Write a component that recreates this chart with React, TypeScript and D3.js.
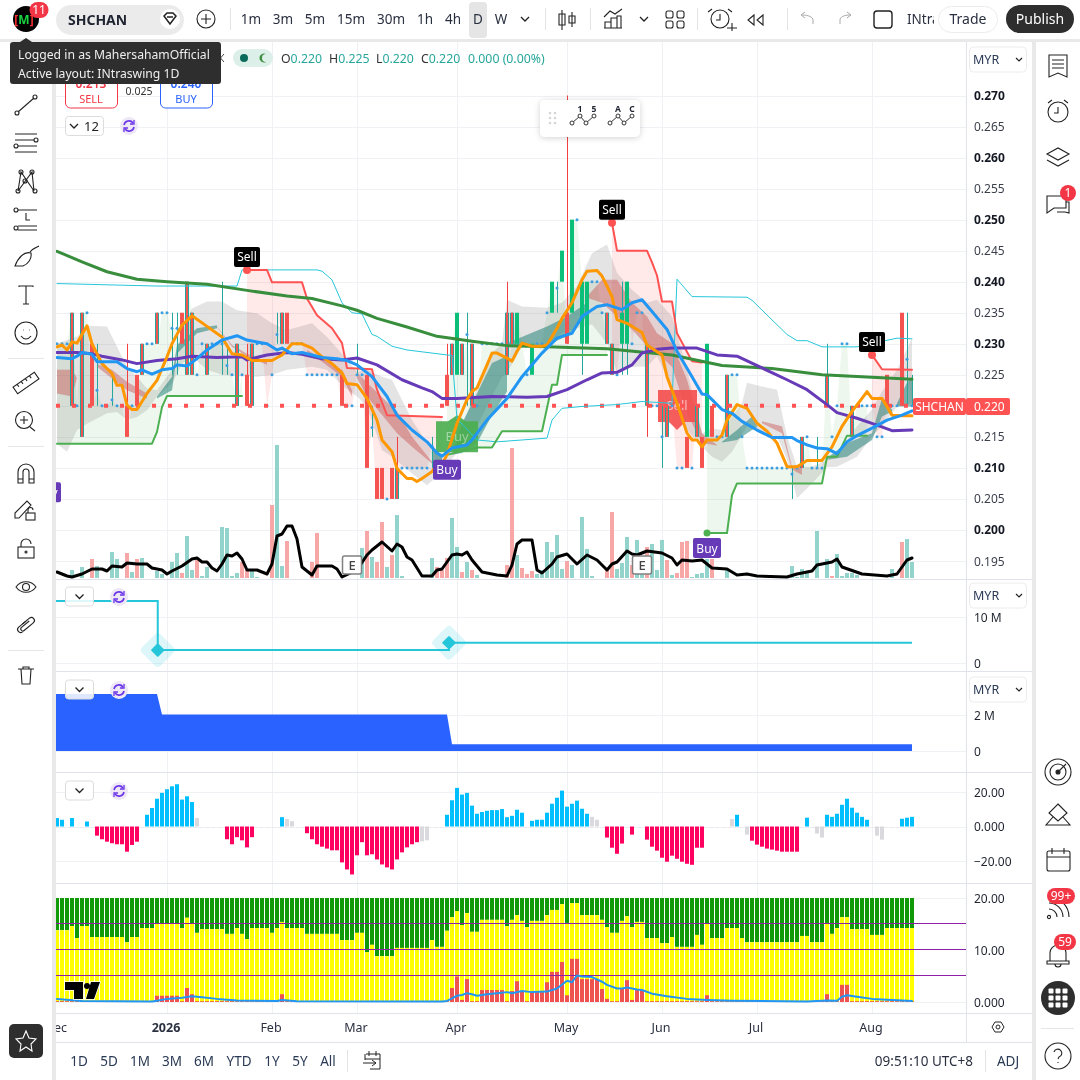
import * as d3 from 'd3';

// ---- price pane, one value per daily bar ----
const barOpen = [
  0.23, 0.23, 0.23, 0.22, 0.22, 0.215, 0.235, 0.23, 0.2225, 0.22,
  0.22, 0.221, 0.22, 0.22, 0.22, 0.22, 0.225, 0.225, 0.23, 0.23,
  0.235, 0.235, 0.235, 0.2325, 0.2325, 0.235, 0.225, 0.225, 0.225, 0.23,
  0.23, 0.23, 0.23, 0.23, 0.2265, 0.225, 0.23, 0.225, 0.225, 0.22,
  0.23, 0.23, 0.22, 0.225, 0.2315, 0.23, 0.235, 0.23, 0.23, 0.23,
  0.225, 0.225, 0.225, 0.225, 0.225, 0.225, 0.225, 0.225, 0.22, 0.22,
  0.225, 0.225, 0.225, 0.2165, 0.21, 0.21, 0.205, 0.21, 0.21, 0.21,
  0.21, 0.21, 0.21, 0.21, 0.21, 0.2135, 0.21, 0.21, 0.225, 0.225,
  0.225, 0.23, 0.2315, 0.23, 0.22, 0.23, 0.23, 0.23, 0.23, 0.23,
  0.235, 0.235, 0.23, 0.23, 0.225, 0.225, 0.23, 0.23, 0.235, 0.235,
  0.239, 0.24, 0.235, 0.235, 0.25, 0.23, 0.23, 0.24, 0.24, 0.235,
  0.235, 0.23, 0.225, 0.23, 0.23, 0.23, 0.235, 0.235, 0.23, 0.22,
  0.22, 0.215, 0.22, 0.22, 0.21, 0.21, 0.215, 0.21, 0.215, 0.215,
  0.215, 0.22, 0.215, 0.215, 0.215, 0.225, 0.225, 0.215, 0.21, 0.21,
  0.21, 0.21, 0.21, 0.21, 0.21, 0.21, 0.21, 0.209, 0.21, 0.215,
  0.215, 0.21, 0.21, 0.21, 0.22, 0.215, 0.22, 0.23, 0.23, 0.22,
  0.22, 0.22, 0.22, 0.22, 0.215, 0.215, 0.225, 0.22, 0.22, 0.235,
  0.2275, 0.22,
];
const barClose = [
  0.23, 0.23, 0.23, 0.235, 0.22, 0.235, 0.235, 0.22, 0.2225, 0.22,
  0.22, 0.221, 0.22, 0.22, 0.215, 0.22, 0.22, 0.23, 0.23, 0.23,
  0.23, 0.235, 0.235, 0.2325, 0.2325, 0.23, 0.24, 0.235, 0.225, 0.23,
  0.225, 0.23, 0.23, 0.23, 0.2265, 0.225, 0.22, 0.225, 0.22, 0.23,
  0.23, 0.23, 0.22, 0.225, 0.2315, 0.235, 0.23, 0.23, 0.23, 0.23,
  0.225, 0.225, 0.225, 0.225, 0.225, 0.225, 0.225, 0.22, 0.22, 0.22,
  0.225, 0.225, 0.21, 0.2165, 0.205, 0.205, 0.205, 0.205, 0.205, 0.21,
  0.21, 0.21, 0.21, 0.21, 0.21, 0.2135, 0.21, 0.21, 0.22, 0.23,
  0.235, 0.225, 0.2315, 0.22, 0.22, 0.23, 0.23, 0.23, 0.23, 0.23,
  0.225, 0.23, 0.235, 0.23, 0.225, 0.23, 0.23, 0.23, 0.235, 0.24,
  0.239, 0.245, 0.23, 0.25, 0.25, 0.24, 0.24, 0.24, 0.24, 0.235,
  0.23, 0.225, 0.225, 0.235, 0.24, 0.23, 0.235, 0.235, 0.22, 0.22,
  0.22, 0.215, 0.215, 0.22, 0.21, 0.21, 0.21, 0.21, 0.22, 0.21,
  0.23, 0.215, 0.215, 0.215, 0.225, 0.225, 0.225, 0.215, 0.21, 0.21,
  0.21, 0.21, 0.21, 0.21, 0.21, 0.21, 0.21, 0.209, 0.21, 0.21,
  0.215, 0.21, 0.21, 0.21, 0.225, 0.215, 0.22, 0.23, 0.23, 0.215,
  0.22, 0.22, 0.22, 0.22, 0.215, 0.215, 0.22, 0.22, 0.22, 0.22,
  0.2275, 0.22,
];
// bars whose wick sticks out past the body
const wickIdx = [8, 11, 14, 23, 24, 33, 34, 38, 44, 60, 63, 68, 75, 78, 82, 90, 100, 102, 105, 113, 114, 118, 121, 147, 152, 154, 170, 171];
const wickHigh = [0.23, 0.225, 0.23, 0.235, 0.235, 0.24, 0.23, 0.23, 0.235, 0.23, 0.22, 0.215, 0.215, 0.23, 0.235, 0.24, 0.24, 0.27, 0.24, 0.24, 0.24, 0.23, 0.22, 0.21, 0.215, 0.23, 0.235, 0.225];
const wickLow = [0.22, 0.22, 0.215, 0.225, 0.225, 0.225, 0.225, 0.22, 0.23, 0.225, 0.215, 0.205, 0.21, 0.22, 0.22, 0.225, 0.235, 0.23, 0.225, 0.225, 0.225, 0.215, 0.21, 0.205, 0.21, 0.22, 0.22, 0.22];
// bars painted twice by the layout's bar colouring
const mixedBars = [3, 5, 17, 20, 26, 27, 30, 36, 39, 45, 68, 79, 81, 83, 90, 91, 110, 111, 118, 122, 128, 134, 149, 154, 159];

type Knots = [number, number][];

const orangeLine: Knots = [[0, 0.2295], [1, 0.2298], [2, 0.229], [3, 0.2303], [4, 0.2301], [6, 0.2329], [7, 0.23], [9, 0.2268], [11, 0.2252], [12, 0.2233], [13, 0.2233], [14, 0.2201], [15, 0.2194], [16, 0.2194], [18, 0.222], [20, 0.2241], [22, 0.2279], [23, 0.23], [25, 0.233], [27, 0.2345], [30, 0.2328], [33, 0.2311], [34, 0.2297], [35, 0.2284], [37, 0.2282], [39, 0.2273], [43, 0.2273], [45, 0.2282], [47, 0.23], [49, 0.23], [51, 0.2293], [53, 0.2279], [55, 0.2268], [57, 0.2253], [58, 0.2236], [60, 0.2234], [62, 0.2212], [64, 0.2177], [65, 0.2145], [67, 0.2126], [68, 0.2099], [70, 0.2083], [71, 0.2083], [72, 0.2078], [73, 0.2083], [75, 0.2094], [76, 0.2106], [77, 0.2106], [78, 0.2121], [80, 0.2172], [82, 0.221], [83, 0.2223], [84, 0.2229], [86, 0.2266], [87, 0.2285], [88, 0.2285], [90, 0.2277], [91, 0.2272], [92, 0.2288], [93, 0.2301], [95, 0.2296], [97, 0.2296], [98, 0.2298], [100, 0.2325], [101, 0.2341], [103, 0.2366], [105, 0.2403], [106, 0.2417], [108, 0.2418], [109, 0.2409], [110, 0.2393], [111, 0.2376], [112, 0.2339], [114, 0.2333], [117, 0.2318], [118, 0.2298], [121, 0.2282], [122, 0.2247], [124, 0.2204], [126, 0.2156], [127, 0.2145], [128, 0.2145], [129, 0.2134], [130, 0.2145], [132, 0.2145], [133, 0.2153], [134, 0.2177], [136, 0.2202], [138, 0.2196], [140, 0.2172], [142, 0.2159], [144, 0.214], [146, 0.2102], [148, 0.2102], [150, 0.2112], [153, 0.2112], [155, 0.2134], [157, 0.2167], [159, 0.2191], [161, 0.2212], [162, 0.2223], [163, 0.2212], [165, 0.2212], [167, 0.2185], [169, 0.2184], [171, 0.2184]];
const blueLine: Knots = [[0, 0.2278], [3, 0.2276], [4, 0.228], [5, 0.2286], [7, 0.2283], [8, 0.2271], [12, 0.2271], [14, 0.226], [16, 0.2255], [17, 0.2258], [19, 0.2251], [21, 0.2258], [23, 0.226], [24, 0.2266], [26, 0.2264], [28, 0.2276], [30, 0.229], [33, 0.2306], [36, 0.2313], [38, 0.2306], [40, 0.2303], [42, 0.23], [44, 0.229], [45, 0.2293], [47, 0.2284], [49, 0.2286], [53, 0.2278], [56, 0.2276], [58, 0.2273], [60, 0.2266], [63, 0.2247], [66, 0.2215], [68, 0.2185], [71, 0.2161], [74, 0.2142], [76, 0.2124], [77, 0.2119], [79, 0.2132], [82, 0.2137], [83, 0.2145], [86, 0.2177], [90, 0.2212], [93, 0.2247], [97, 0.2285], [100, 0.2309], [101, 0.2312], [103, 0.2317], [105, 0.2344], [108, 0.236], [110, 0.2363], [113, 0.2355], [115, 0.2366], [117, 0.2371], [119, 0.2352], [122, 0.2323], [124, 0.2288], [127, 0.2247], [129, 0.2219], [130, 0.2218], [133, 0.2194], [135, 0.2188], [137, 0.2175], [140, 0.2161], [143, 0.2149], [147, 0.2149], [148, 0.2144], [150, 0.2137], [152, 0.2132], [154, 0.2131], [156, 0.2123], [158, 0.2142], [160, 0.2152], [163, 0.2164], [166, 0.2177], [169, 0.2185], [171, 0.2192]];
const purpleLine: Knots = [[0, 0.2286], [4, 0.2286], [7, 0.2284], [9, 0.228], [13, 0.2274], [16, 0.2268], [20, 0.2273], [24, 0.2276], [27, 0.228], [32, 0.2278], [37, 0.2279], [38, 0.2274], [42, 0.2282], [46, 0.2286], [49, 0.2283], [53, 0.2276], [57, 0.2274], [60, 0.2277], [64, 0.2266], [69, 0.2242], [73, 0.2229], [75, 0.2223], [77, 0.2212], [80, 0.2212], [87, 0.2215], [94, 0.2214], [98, 0.2215], [102, 0.2226], [106, 0.2242], [109, 0.2253], [112, 0.2254], [115, 0.2266], [117, 0.2285], [120, 0.2291], [123, 0.2293], [128, 0.2293], [132, 0.2282], [136, 0.228], [141, 0.2261], [146, 0.2242], [150, 0.2226], [154, 0.2202], [156, 0.2189], [160, 0.218], [164, 0.2169], [167, 0.216], [171, 0.2161]];
const greenLine: Knots = [[0, 0.2449], [5, 0.2432], [10, 0.2416], [16, 0.2404], [22, 0.24], [30, 0.2396], [38, 0.2386], [46, 0.2377], [51, 0.2373], [57, 0.2361], [60, 0.2354], [64, 0.2341], [70, 0.2327], [76, 0.2312], [83, 0.2304], [90, 0.2297], [98, 0.2295], [110, 0.2292], [123, 0.2282], [133, 0.2265], [143, 0.226], [153, 0.225], [163, 0.2246], [171, 0.2243]];
const cyanLine: Knots = [[0, 0.2397], [10, 0.2395], [20, 0.2393], [36, 0.2393], [37, 0.2419], [42, 0.2419], [52, 0.2419], [53, 0.2417], [55, 0.2403], [57, 0.2366], [59, 0.235], [61, 0.2348], [63, 0.2315], [64, 0.2312], [67, 0.2296], [70, 0.229], [75, 0.2285], [79, 0.2281], [80, 0.2179], [84, 0.2145], [88, 0.2142], [93, 0.2145], [98, 0.2148], [99, 0.2177], [101, 0.2196], [105, 0.2199], [112, 0.2202], [117, 0.2207], [123, 0.2204], [124, 0.2404], [127, 0.2376], [138, 0.2375], [139, 0.237], [146, 0.2315], [148, 0.2305], [150, 0.2305], [153, 0.2295], [160, 0.2295], [165, 0.2304], [168, 0.2309], [171, 0.2308]];

// trailing stops: one list per up or down leg
const greenStops: Knots[] = [
  [[0, 0.2139], [19, 0.2139], [20, 0.2158], [21, 0.2198], [22, 0.2216], [37, 0.2216]],
  [[78, 0.2121], [84, 0.2133], [87, 0.2133], [89, 0.2159], [97, 0.2159], [99, 0.2234], [100, 0.2234], [101, 0.2282], [110, 0.2282]],
  [[130, 0.1995], [134, 0.1995], [135, 0.2056], [136, 0.2075], [153, 0.2075], [154, 0.2118], [156, 0.2118], [158, 0.2152], [162, 0.2152]],
];
const redStops: Knots[] = [
  [[38, 0.2419], [42, 0.2419], [43, 0.2399], [49, 0.2399], [50, 0.2373], [52, 0.2346], [55, 0.2325], [57, 0.2301], [58, 0.2261], [63, 0.2259], [64, 0.2226], [66, 0.2185], [77, 0.2182]],
  [[111, 0.2495], [112, 0.245], [118, 0.245], [119, 0.2431], [120, 0.241], [121, 0.2368], [123, 0.2368], [124, 0.2317], [127, 0.2272], [129, 0.227]],
  [[163, 0.2282], [165, 0.2259], [171, 0.2258]],
];

// grey cloud and the narrower coloured ribbons: [bar, upper, lower]
type Band = [number, number, number][];
const greyCloud: Band = [[0, 0.2301, 0.2139], [2, 0.2306, 0.2126], [4, 0.2311, 0.2161], [6, 0.2329, 0.2171], [10, 0.2328, 0.2188], [12, 0.2295, 0.219], [14, 0.2263, 0.2177], [16, 0.2247, 0.2182], [18, 0.2228, 0.2193], [20, 0.2225, 0.2215], [23, 0.2258, 0.2236], [25, 0.2322, 0.2268], [27, 0.2357, 0.2279], [30, 0.2368, 0.2258], [33, 0.2368, 0.225], [36, 0.2354, 0.2248], [40, 0.2349, 0.2247], [43, 0.2333, 0.225], [46, 0.2322, 0.2258], [51, 0.2333, 0.2263], [54, 0.2311, 0.2258], [57, 0.2284, 0.2233], [60, 0.2255, 0.2215], [62, 0.2258, 0.2199], [65, 0.2247, 0.2129], [67, 0.2242, 0.2118], [71, 0.2177, 0.2091], [74, 0.214, 0.2072], [76, 0.2124, 0.2086], [78, 0.2121, 0.2105], [80, 0.2145, 0.2124], [84, 0.2229, 0.2167], [87, 0.2285, 0.2215], [89, 0.2301, 0.2247], [90, 0.2371, 0.2253], [93, 0.236, 0.2296], [98, 0.2358, 0.23], [101, 0.2366, 0.2317], [104, 0.2393, 0.2325], [107, 0.2446, 0.2331], [110, 0.246, 0.2301], [112, 0.2414, 0.2253], [115, 0.2387, 0.2263], [118, 0.2366, 0.2263], [120, 0.2371, 0.228], [123, 0.2344, 0.2231], [126, 0.2258, 0.2161], [129, 0.2156, 0.2134], [131, 0.2164, 0.2118], [133, 0.2161, 0.211], [135, 0.2183, 0.2126], [137, 0.2204, 0.2153], [138, 0.2237, 0.2167], [141, 0.2231, 0.2156], [144, 0.2226, 0.2151], [146, 0.2151, 0.2113], [148, 0.2102, 0.2051], [151, 0.2102, 0.2075], [154, 0.2113, 0.2101], [156, 0.2124, 0.2102], [160, 0.2167, 0.2118], [163, 0.2194, 0.2151], [165, 0.2223, 0.2167], [168, 0.2258, 0.2199], [171, 0.2309, 0.2204]];
const redRibbons: Band[] = [
  [[0, 0.2258, 0.222], [3, 0.2258, 0.2215], [4, 0.2245, 0.2245]],
  [[8, 0.2268, 0.2263], [11, 0.2258, 0.2244], [14, 0.2239, 0.2225], [18, 0.222, 0.2212]],
  [[32, 0.2328, 0.2327], [35, 0.2298, 0.2295], [38, 0.2284, 0.228], [42, 0.2271, 0.2266]],
  [[50, 0.229, 0.2287], [53, 0.2276, 0.2271], [57, 0.2258, 0.2247], [59, 0.2225, 0.2215]],
  [[60, 0.2254, 0.2245], [62, 0.2237, 0.2215], [68, 0.2191, 0.2156], [71, 0.215, 0.2134], [75, 0.211, 0.2107]],
  [[106, 0.2376, 0.2374], [109, 0.2403, 0.2366], [112, 0.2403, 0.2344], [115, 0.2366, 0.2323], [118, 0.2344, 0.2296], [120, 0.2317, 0.2285], [123, 0.2301, 0.2263], [126, 0.2242, 0.2188], [129, 0.2156, 0.214], [132, 0.2137, 0.2136]],
  [[141, 0.2175, 0.2172], [145, 0.2167, 0.2156], [147, 0.2102, 0.2097], [149, 0.2107, 0.2089]],
];
const tealRibbons: Band[] = [
  [[20, 0.2215, 0.2212], [23, 0.2247, 0.2225], [24, 0.2298, 0.2284], [26, 0.2311, 0.2301], [28, 0.2325, 0.2317], [32, 0.233, 0.2325]],
  [[75, 0.2134, 0.2107], [77, 0.2118, 0.211]],
  [[79, 0.2121, 0.2121], [81, 0.2172, 0.2124], [84, 0.222, 0.214], [87, 0.2269, 0.2185], [90, 0.228, 0.2223]],
  [[90, 0.2301, 0.2298], [98, 0.2328, 0.2298], [102, 0.2344, 0.2312], [106, 0.2366, 0.2344]],
  [[133, 0.2142, 0.2141], [136, 0.2161, 0.2145], [139, 0.2183, 0.2161], [140, 0.2167, 0.2166]],
  [[154, 0.2116, 0.2113], [158, 0.214, 0.2118], [163, 0.2156, 0.2145], [165, 0.2212, 0.2183], [167, 0.2194, 0.2191]],
  [[168, 0.2204, 0.2199], [170, 0.2237, 0.2199], [171, 0.2247, 0.2199]],
];

const priceTicks = [0.27, 0.265, 0.26, 0.255, 0.25, 0.245, 0.24, 0.235, 0.23, 0.225, 0.22, 0.215, 0.21, 0.205, 0.2, 0.195];
const lastPrice = 0.22;
const sellIdx = [38, 111, 163];
const sellPrice = [0.2419, 0.2495, 0.2282];
const buyIdx = [-2, 78, 130];
const buyPrice = [0.2085, 0.2121, 0.1995];

// ---- volume ----
const volumeIdx = [3, 5, 7, 8, 11, 12, 14, 15, 16, 17, 20, 21, 23, 24, 25, 26, 27, 28, 29, 30, 33, 34, 35, 36, 37, 38, 39, 40, 43, 44, 45, 46, 51, 52, 61, 62, 63, 64, 65, 66, 67, 68, 69, 75, 76, 77, 78, 79, 80, 81, 82, 83, 84, 90, 91, 92, 93, 94, 95, 96, 97, 98, 99, 100, 101, 102, 103, 105, 106, 107, 110, 111, 112, 113, 114, 115, 116, 117, 118, 119, 120, 121, 122, 123, 124, 125, 126, 127, 128, 129, 130, 131, 134, 147, 148, 149, 150, 152, 154, 155, 156, 157, 158, 159, 160, 167, 169, 170, 171];
const volumeVal = [8, 11, 19, 12, 26, 19, 25, 6, 19, 20, 7, 4, 16, 25, 5, 42, 8, 19, 2, 11, 51, 50, 2, 5, 16, 8, 9, 1, 73, 133, 12, 37, 16, 45, 30, 47, 21, 16, 56, 11, 23, 63, 2, 20, 11, 8, 20, 60, 31, 6, 16, 8, 3, 13, 130, 23, 10, 4, 7, 4, 8, 36, 26, 43, 9, 17, 13, 61, 29, 2, 8, 66, 9, 15, 41, 13, 38, 16, 31, 34, 8, 38, 18, 3, 5, 36, 37, 1, 4, 5, 19, 19, 9, 12, 1, 9, 6, 47, 19, 2, 24, 2, 5, 5, 3, 9, 36, 39, 16];
const volumeDown = [7, 14, 16, 25, 28, 37, 38, 43, 46, 51, 52, 62, 64, 65, 67, 76, 77, 78, 81, 83, 90, 91, 93, 94, 95, 102, 110, 111, 115, 118, 122, 124, 125, 126, 131, 155, 169];
const volumeMa: Knots = [[0, 6], [2, 2], [3, 1], [5, 4], [7, 9], [9, 9], [10, 7], [11, 12], [13, 11], [14, 15], [16, 14], [18, 14], [19, 10], [21, 8], [22, 4], [23, 7], [25, 12], [27, 19], [28, 20], [29, 16], [30, 16], [31, 10], [32, 7], [33, 14], [34, 23], [35, 22], [36, 25], [37, 19], [38, 8], [40, 8], [42, 4], [43, 14], [44, 42], [45, 44], [46, 52], [47, 52], [48, 39], [49, 11], [50, 7], [51, 3], [52, 12], [55, 12], [56, 9], [57, 1], [60, 8], [62, 23], [63, 28], [65, 36], [67, 27], [68, 34], [69, 31], [70, 21], [71, 18], [72, 10], [73, 2], [75, 2], [76, 8], [77, 9], [79, 23], [80, 24], [81, 23], [82, 26], [83, 18], [85, 6], [88, 3], [90, 2], [91, 13], [92, 34], [93, 38], [95, 38], [96, 8], [97, 5], [99, 14], [100, 21], [102, 24], [104, 14], [106, 23], [108, 18], [110, 8], [111, 14], [112, 16], [114, 27], [115, 24], [116, 23], [118, 27], [121, 25], [123, 20], [124, 13], [125, 18], [127, 17], [129, 18], [131, 10], [134, 9], [136, 3], [138, 4], [140, 2], [146, 1], [148, 4], [151, 7], [152, 13], [155, 16], [156, 19], [157, 11], [161, 4], [166, 2], [168, 4], [169, 11], [170, 18], [171, 20]];
const earningsIdx = [59, 117];

// ---- step panes ----
const flowIdx = [-0.2, 20.15, 78.4, 171];
const flowVal = [13.5, 2.8, 4.4, 4.4];
const flowMarks = [1, 2];
const capIdx = [-0.2, 20, 21, 78, 79, 171];
const capVal = [3.17, 3.17, 2.03, 2.03, 0.37, 0.37];

// ---- momentum histogram ----
const histVal = [
  4.9, 3.9, 0, 4.9, 0, 0, 2.9, 0, -5.3, -7.4,
  -8.8, -9.7, -10.3, -10.3, -14.6, -10.7, -8.8, 0, 6.8, 10.7,
  16.1, 19.5, 21.6, 23.3, 24.5, 15.6, 17.5, 14.2, 4.9, 0,
  0, 0, 0, 0, -7.4, -10.3, -6.2, -8, -12.1, -6.2,
  0, 0, 0, 0, 0, 5.4, 4.3, 3.1, 0, 0,
  -3.9, -7.4, -10.3, -11.7, -12.8, -13.8, -13.8, -20.8, -24.9, -27.8,
  -16.7, -9.1, -16.7, -16.1, -19.1, -22, -23.7, -24.9, -19.1, -15,
  -12.1, -10.3, -9.1, -8.6, -8, 0, 0, 0, 6.8, 15.2,
  22.4, 18.5, 19.5, 12.1, 7.4, 8.4, 9.1, 9.5, 9.5, 10.1,
  5.4, 6.2, 9.7, 8, 0, 3.3, 3.9, 3.9, 8, 13.2,
  16.7, 20.8, 11.5, 13.2, 15, 10.3, 7.4, 5.6, 3.9, 0,
  -6.4, -12.3, -15.8, -9.9, 0, -4.7, 0, 0, -7.6, -11.7,
  -14, -18.1, -20.4, -16.9, -18.7, -20.4, -21.6, -22.2, -12.3, -12.3,
  0, 0, 0, 0, 0, 4.3, 6.8, 0, -4.7, -8.2,
  -10.5, -11.7, -12.8, -13.4, -14, -14.6, -14.6, -14.6, -14.6, 0,
  5.1, 0, -4.1, -6.4, 6.8, 5.6, 7.4, 12.6, 16.1, 10.9,
  8, 5.6, 3.9, 0, -5.3, -7.6, 0, 0, 0, 4.5,
  5.1, 5.6,
];
const histGrey = [28, 46, 47, 73, 74, 107, 108, 135, 138, 152, 153, 164, 165];

// ---- money flow stack ----
const stackTop = 20;
const yellowVal = [
  13.8, 13.8, 13.8, 14.6, 12.3, 14.6, 14.6, 12.5, 12.5, 12.5,
  12.5, 12.5, 12.5, 12.5, 11.5, 12.5, 12.5, 14.2, 14.2, 14.2,
  15, 15, 15, 15, 15, 14.2, 16.2, 15, 13.3, 14,
  14, 14, 14, 14, 13.1, 13.1, 14.2, 13.1, 12.1, 14.2,
  14.2, 14.2, 14.2, 13.3, 14.2, 15.4, 14.2, 14.2, 14.2, 14.2,
  13.1, 13.1, 13.1, 13.1, 13.1, 13.1, 13.1, 11.9, 11.9, 11.9,
  13.3, 13.3, 9.6, 11, 8.8, 8.8, 8.8, 8.8, 10.4, 10.4,
  10.4, 10.4, 10.4, 10.4, 10.4, 11.9, 10.6, 10.6, 13.7, 16.3,
  17.5, 14.8, 17.1, 13.5, 13.5, 15.8, 15.8, 15.8, 15.8, 15.8,
  14.6, 15.8, 16.7, 15.6, 14.4, 15.6, 15.6, 15.6, 16.7, 17.7,
  17.7, 18.8, 15.2, 19, 19, 16.7, 16.7, 16.7, 16.7, 15.8,
  14.4, 13.3, 13.3, 15.6, 16.5, 14.4, 15.4, 15.4, 12.3, 12.3,
  12.3, 11.3, 11.3, 12.5, 10.6, 10.6, 10.6, 10.6, 12.9, 11,
  15, 12.3, 12.3, 12.3, 14.2, 14.2, 14.2, 12.3, 11.5, 11.5,
  11.5, 11.5, 11.5, 11.5, 11.5, 11.5, 11.5, 11.5, 11.5, 12.7,
  12.7, 11.5, 11.5, 11.5, 15.2, 13.1, 14.2, 16.3, 16.3, 14,
  14, 14, 14, 12.9, 12.9, 12.9, 14.2, 14.2, 14.2, 14.2,
  14.2, 14.2,
];
const redIdx = [20, 21, 22, 23, 24, 26, 27, 45, 79, 80, 81, 82, 85, 86, 87, 88, 89, 91, 92, 93, 95, 96, 97, 98, 99, 100, 101, 102, 103, 104, 105, 106, 107, 108, 109, 110, 113, 114, 115, 116, 117, 130, 154, 157, 158];
const redVal = [1.2, 1.2, 1.2, 1.2, 1.2, 2.7, 1.5, 1.5, 2.7, 4.9, 0.4, 4.4, 2.3, 2.3, 2.3, 2.3, 2.3, 2.1, 4, 2.1, 1.9, 1.9, 1.9, 3.8, 5.8, 5.8, 7.7, 1.3, 8.3, 8.3, 4.4, 4.4, 4.4, 4.4, 2.5, 0.6, 2.5, 4.2, 0.4, 2.3, 2.3, 1.3, 1.5, 3.3, 3.3];
const redFloor = 0.15;
const flowLine: Knots = [[0, 0.6], [5, 0.2], [19, 0.1], [20, 0.25], [22, 0.6], [25, 0.8], [27, 1.1], [29, 0.9], [32, 0.6], [36, 0.3], [44, 0.2], [45, 0.4], [48, 0.15], [77, 0.1], [78, 0.2], [79, 0.7], [80, 1.2], [81, 1.35], [82, 1.7], [83, 1.5], [84, 1.2], [86, 1.5], [88, 1.7], [90, 1.9], [91, 1.7], [93, 2.1], [95, 1.9], [98, 2], [100, 2.6], [102, 4.1], [103, 3.8], [104, 5.1], [105, 4.9], [107, 4.8], [109, 3.9], [110, 3.3], [112, 2.6], [113, 2.6], [114, 2.8], [116, 2.4], [117, 2.3], [119, 1.6], [122, 1.1], [126, 0.6], [130, 0.4], [135, 0.25], [150, 0.1], [154, 0.3], [156, 0.25], [157, 1], [158, 1.3], [160, 1], [163, 0.6], [171, 0.2]];
const stackLevels = [15, 10, 5];

const monthIdx = [0, 22, 43, 60, 80, 102, 121, 140, 163];
const monthLabels = ['Dec', '2026', 'Feb', 'Mar', 'Apr', 'May', 'Jun', 'Jul', 'Aug'];

const timeframes = ['1m', '3m', '5m', '15m', '30m', '1h', '4h', 'D', 'W'];
const rangeButtons = ['1D', '5D', '1M', '3M', '6M', 'YTD', '1Y', '5Y', 'All'];

const FONT = '"Noto Sans", sans-serif';
const INK = '#1f2430';
const GRID = '#f0f1f5';
const DIVIDER = '#e0e3eb';

// scales
const x = d3.scaleLinear().domain([0, 171]).range([57, 912]);
const yPrice = d3.scaleLinear().domain([0.195, 0.27]).range([561, 95.5]);
const yVol = d3.scaleLinear().domain([0, 100]).range([578, 478]);
const yFlow = d3.scaleLinear().domain([0, 10]).range([663, 617]);
const yCap = d3.scaleLinear().domain([0, 2]).range([751, 715]);
const yHist = d3.scaleLinear().domain([-20, 20]).range([861, 792]);
const yStack = d3.scaleLinear().domain([0, 20]).range([1002, 898]);

const BAR_W = 4;

// keep 1px rules on a whole pixel
const crisp = (v: number) => Math.round(v) + 0.5;

function linePath(pts: Knots, y: d3.ScaleLinear<number, number>) {
  return d3.line<[number, number]>().x((d) => x(d[0])).y((d) => y(d[1]))(pts) || '';
}

function bandPath(band: Band) {
  return d3.area<[number, number, number]>().x((d) => x(d[0])).y0((d) => yPrice(d[2])).y1((d) => yPrice(d[1]))(band) || '';
}

// fill between a stop leg and the closes of the same bars
function legFill(leg: Knots) {
  const first = leg[0][0];
  const last = leg[leg.length - 1][0];
  const closes: Knots = barClose.slice(first, last + 1).map((c, k) => [first + k, c]);
  return linePath([...closes, ...[...leg].reverse()], yPrice) + 'Z';
}

function Txt({ x: tx, y, size = 13, fill = INK, anchor = 'start', weight = 400, children, opacity }: any) {
  return (
    <text x={tx} y={y} fontSize={size} fill={fill} textAnchor={anchor} fontWeight={weight} fontFamily={FONT} opacity={opacity}>
      {children}
    </text>
  );
}

function Chevron({ cx, cy }: { cx: number; cy: number }) {
  return <path d={`M${cx - 4},${cy - 2} L${cx},${cy + 2} L${cx + 4},${cy - 2}`} fill="none" stroke="#222" strokeWidth={1.3} />;
}

function Sync({ cx, cy }: { cx: number; cy: number }) {
  return (
    <g>
      <circle cx={cx} cy={cy} r={9} fill="#ede7f6" />
      <path d={`M${cx - 5},${cy - 1} A5,5 0 0 1 ${cx + 4},${cy - 3} M${cx + 5},${cy + 1} A5,5 0 0 1 ${cx - 4},${cy + 3}`} fill="none" stroke="#6a35e8" strokeWidth={1.6} />
      <path d={`M${cx + 5},${cy - 6} v4 h-4 M${cx - 5},${cy + 6} v-4 h4`} fill="none" stroke="#6a35e8" strokeWidth={1.3} />
    </g>
  );
}

function PaneButton({ yTop }: { yTop: number }) {
  return (
    <g>
      <rect x={65.5} y={yTop} width={28} height={19} rx={3} fill="#fff" fillOpacity={0.85} stroke="#dcdcdc" />
      <Chevron cx={79.5} cy={yTop + 9.5} />
      <Sync cx={119} cy={yTop + 10} />
    </g>
  );
}

function CurrencyBox({ yTop }: { yTop: number }) {
  return (
    <g>
      <rect x={969.5} y={yTop} width={57} height={25} rx={4} fill="#fff" stroke="#ececec" />
      <Txt x={973} y={yTop + 17} size={12.5} fill="#2a3a55">MYR</Txt>
      <path d={`M${1016},${yTop + 11} l3,3 l3,-3`} fill="none" stroke="#222" strokeWidth={1.2} />
    </g>
  );
}

function Badge({ cx, cy, label, w = 18 }: { cx: number; cy: number; label: string; w?: number }) {
  return (
    <g>
      <rect x={cx - w / 2} y={cy - 8} width={w} height={16} rx={8} fill="#f23645" />
      <Txt x={cx} y={cy + 4} size={12} fill="#fff" anchor="middle">{label}</Txt>
    </g>
  );
}

function LeftTools() {
  const s = { fill: 'none', stroke: '#222', strokeWidth: 1.1 } as const;
  return (
    <g {...s}>
      <g transform="translate(26,105)"><path d="M-8,7 L8,-7" /><circle cx={-9} cy={8} r={2} /><circle cx={9} cy={-8} r={2} /></g>
      <g transform="translate(26,143)"><path d="M-11,-9 H11 M-11,-3 H8 M-8,3 H11 M-11,9 H11" /><circle cx={10} cy={-3} r={2} /><circle cx={-10} cy={3} r={2} /></g>
      <g transform="translate(26,181)"><path d="M-8,10 L-5,-9 L8,10 L6,-9 L-8,10" /><circle cx={-8} cy={10} r={2} /><circle cx={-5} cy={-9} r={2} /><circle cx={6} cy={-9} r={2} /><circle cx={9} cy={10} r={2} /><circle cx={-1} cy={0} r={2} /></g>
      <g transform="translate(26,219)"><path d="M-8,-9 H11 M-8,7 H11 M-8,11 H11 M0,-6 V1 H4" /><circle cx={-10} cy={-9} r={2} /><circle cx={-10} cy={9} r={2} /></g>
      <g transform="translate(26,257)"><path d="M-11,9 C-8,1 -2,-6 5,-4 C6,2 2,7 -3,9 Z M4,-5 C6,-8 9,-9 13,-11" /></g>
      <g transform="translate(26,295)"><path d="M-7,-8 V-9 H7 V-8 M0,-9 V9 M-3,9 H3" /></g>
      <g transform="translate(26,333)"><circle r={11} /><path d="M-5,3 C-2,7 2,7 5,3 M-3,-3 h.6 M3,-3 h.6" /></g>
      <g transform="translate(26,383) rotate(-35)"><rect x={-13} y={-4} width={26} height={8} /><path d="M-8,-4 v3 M-3,-4 v3 M2,-4 v3 M7,-4 v3" /></g>
      <g transform="translate(24,420)"><circle r={8.5} /><path d="M-4,0 H4 M0,-4 V4 M6,7 L11,11" /></g>
      <g transform="translate(26,473)"><path d="M-8,10 V-1 A8,8 0 0 1 8,-1 V10 H3 V-1 A3,3 0 0 0 -3,-1 V10 Z M-8,6 H-3 M3,6 H8" /></g>
      <g transform="translate(24,510)"><path d="M-9,8 L-9,3 L3,-9 L7,-5 L-5,8 Z" /><rect x={2} y={3} width={9} height={7} /><path d="M4,3 V0 A2.5,2.5 0 0 1 9,0" /></g>
      <g transform="translate(26,549)"><rect x={-8} y={-2} width={16} height={11} /><path d="M-5,-2 V-5 A5,5 0 0 1 5,-5" /><circle cy={3} r={1} /></g>
      <g transform="translate(26,587)"><path d="M-10,0 C-5,-7 5,-7 10,0 C5,7 -5,7 -10,0 Z" /><circle r={3.5} /></g>
      <g transform="translate(26,625) rotate(-40)"><path d="M-2,-3 H7 A3,3 0 0 1 7,3 H-5 A2,2 0 0 1 -5,-1 H5" /><path d="M-9,-1 V-1 M2,-3 H-7 A3,3 0 0 0 -7,3" /></g>
      <g transform="translate(26,675)"><path d="M-8,-6 H8 M-5,-6 L-4,9 H4 L5,-6 M-3,-6 V-8 H3 V-6" /></g>
    </g>
  );
}

function RightTools() {
  const s = { fill: 'none', stroke: '#222', strokeWidth: 1.1 } as const;
  return (
    <g {...s}>
      <g transform="translate(1058,66)"><path d="M-9,-11 H9 V11 L0,7 L-9,11 Z M-6,-6 H6 M-6,-2 H6 M-6,2 H6" /></g>
      <g transform="translate(1058,111)"><circle cy={1} r={10} /><path d="M0,-4 V2 H-4 M-10,-8 L-6,-11 M10,-8 L6,-11" /></g>
      <g transform="translate(1058,157)"><path d="M-11,-3 L0,-9 L11,-3 L0,3 Z M-11,3 L0,9 L11,3" /></g>
      <g transform="translate(1058,204)"><path d="M-11,-8 H8 V4 H-4 L-11,9 Z M-1,8 H7 L11,9 V-2 H8" /></g>
      <g transform="translate(1058,772)"><circle r={13} /><circle r={8} /><circle r={2} fill="#222" /><path d="M0,0 L8,-8" /></g>
      <g transform="translate(1058,815)"><path d="M0,-11 L9,-2 L0,6 L-9,-2 Z M-5,2 L-12,10 H12 L5,2" /></g>
      <g transform="translate(1058,860)"><rect x={-11} y={-9} width={23} height={20} rx={2} /><path d="M-11,-3 H12 M-6,-12 V-6 M6,-12 V-6" /></g>
      <g transform="translate(1058,908)"><circle cx={-9} cy={9} r={1.6} /><path d="M-9,1 A8,8 0 0 1 -1,9 M-9,-5 A14,14 0 0 1 5,9 M-9,-11 A20,20 0 0 1 11,9" /></g>
      <g transform="translate(1058,955)"><path d="M-8,6 V-2 A8,8 0 0 1 8,-2 V6 M-11,6 H11 V9 H-11 Z M-3,9 A3,3 0 0 0 3,9" /></g>
      <g transform="translate(1058,1056)"><circle r={13} /><path d="M-4,-4 A4,4 0 1 1 1,1 L0,3 M0,6 v1" /></g>
    </g>
  );
}

function TopBar() {
  const tfX = [251, 283, 315, 351, 391, 425, 453, 478, 501];
  const s = { fill: 'none', stroke: '#222', strokeWidth: 1.1 } as const;
  return (
    <g>
      <rect x={0} y={0} width={1080} height={39} fill="#fff" />
      <circle cx={26} cy={19} r={13} fill="#000" />
      <Txt x={24} y={24} size={12} weight={700} fill="#ff3030" anchor="middle">[<tspan fill="#19d341">M</tspan>]</Txt>
      <Badge cx={39} cy={10} label="11" w={19} />
      <rect x={56} y={5} width={128} height={30} rx={15} fill="#ebebeb" />
      <Txt x={68} y={25} size={14} weight={700}>SHCHAN</Txt>
      <circle cx={170} cy={19} r={10} fill="#fff" />
      <path d="M164,16 L167,13 H173 L176,16 L170,24 Z M167,17 H173" {...s} strokeWidth={1.5} />
      <circle cx={206} cy={19} r={9} {...s} />
      <path d="M201,19 H211 M206,14 V24" {...s} />
      <rect x={469} y={2} width={18} height={36} rx={4} fill="#e5e5e5" />
      {timeframes.map((t, i) => (
        <Txt key={t} x={tfX[i]} y={24} size={13.5} anchor="middle" fill="#2a3040">{t}</Txt>
      ))}
      <Chevron cx={525} cy={19} />
      {[230, 545, 590, 697, 787].map((sx) => <line key={sx} x1={sx + 0.5} x2={sx + 0.5} y1={8} y2={30} stroke="#e3e3e3" />)}
      <g {...s}>
        <path d="M562,10 V30 M559,14 H565 V25 H559 Z M572,12 V27 M569,16 H575 V23 H569 Z" />
        <path d="M605,28 V22 H611 V28 M611,28 V18 H617 V28 M617,28 V16 H621 V28 M604,28 H622 M604,17 L610,11 L615,14 L622,9" />
        <rect x={666} y={11} width={7} height={7} rx={2} /><rect x={677} y={11} width={7} height={7} rx={2} />
        <rect x={666} y={21} width={7} height={7} rx={2} /><rect x={677} y={21} width={7} height={7} rx={2} />
        <circle cx={720} cy={19} r={9} /><path d="M720,14 V20 H716 M712,9 L708,12 M728,9 L732,12 M727,28 H737 M732,23 V31" />
        <path d="M754,15 L748,20 L754,25 Z M763,15 L757,20 L763,25 Z" />
        <rect x={874} y={11} width={18} height={17} rx={3} strokeWidth={1.4} />
      </g>
      <Chevron cx={644} cy={19} />
      <path d="M813,24 V20 C813,17 808,15 802,15 M805,12 L801,15 L805,18" fill="none" stroke="#aaa" />
      <path d="M840,24 V20 C840,17 844,15 850,15 M847,12 L851,15 L847,18" fill="none" stroke="#aaa" />
      <clipPath id="intra"><rect x={905} y={5} width={29} height={28} /></clipPath>
      <g clipPath="url(#intra)"><Txt x={907} y={24} size={13.5} fill="#2a3040">INtra</Txt></g>
      <rect x={938.5} y={6.5} width={59} height={26} rx={13} fill="#fff" stroke="#ececec" />
      <Txt x={968} y={24} size={14} anchor="middle" fill="#2a3040">Trade</Txt>
      <rect x={1006} y={5} width={68} height={28} rx={14} fill="#2e2e2e" />
      <Txt x={1040} y={24} size={14} anchor="middle" fill="#fff">Publish</Txt>
    </g>
  );
}

export default function App() {
  const wickByBar = new Map(wickIdx.map((b, k) => [b, [wickHigh[k], wickLow[k]]]));
  const bars = barClose.map((c, i) => ({ i, open: barOpen[i], close: c, wick: wickByBar.get(i), mixed: mixedBars.includes(i) }));
  const redByBar = new Map(redIdx.map((b, k) => [b, redVal[k]]));
  const flowStep = d3.line<number>().x((b) => x(b)).y((_, k) => yFlow(flowVal[k])).curve(d3.curveStepAfter);
  const capArea = d3.area<number>().x((b) => x(b)).y0(yCap(0)).y1((_, k) => yCap(capVal[k]));
  const strokeLine = { fill: 'none', strokeLinejoin: 'round', strokeLinecap: 'round' } as const;

  return (
    <svg width={1080} height={1080} style={{ position: 'absolute', left: 0, top: 0, display: 'block', background: '#fff' }}>
      <defs>
        <clipPath id="plot"><rect x={56} y={42} width={910} height={537} /></clipPath>
        <clipPath id="axisX"><rect x={56} y={1014} width={910} height={27} /></clipPath>
        <filter id="soft" x="-20%" y="-20%" width="140%" height="150%"><feDropShadow dx={0} dy={1} stdDeviation={3} floodOpacity={0.18} /></filter>
      </defs>

      {/* grid */}
      <g stroke={GRID}>
        {monthIdx.slice(1).map((b) => <line key={b} x1={crisp(x(b))} x2={crisp(x(b))} y1={42} y2={1013} />)}
        {priceTicks.map((p) => <line key={p} x1={56} x2={966} y1={crisp(yPrice(p))} y2={crisp(yPrice(p))} />)}
        {[0, 10].map((v) => <line key={v} x1={56} x2={966} y1={crisp(yFlow(v))} y2={crisp(yFlow(v))} />)}
        {[0, 2].map((v) => <line key={v} x1={56} x2={966} y1={crisp(yCap(v))} y2={crisp(yCap(v))} />)}
        {[-20, 0, 20].map((v) => <line key={v} x1={56} x2={966} y1={crisp(yHist(v))} y2={crisp(yHist(v))} />)}
        {[0, 20].map((v) => <line key={v} x1={56} x2={966} y1={crisp(yStack(v))} y2={crisp(yStack(v))} />)}
      </g>

      {/* price pane */}
      <g clipPath="url(#plot)">
        {volumeIdx.map((b, k) => (
          <rect key={b} x={x(b) - BAR_W / 2} y={yVol(volumeVal[k])} width={BAR_W} height={yVol(0) - yVol(volumeVal[k])} fill={volumeDown.includes(b) ? '#f7a8a6' : '#92d3cc'} />
        ))}
        {greenStops.map((leg, k) => <path key={k} d={legFill(leg)} fill="#4caf50" fillOpacity={0.1} />)}
        {redStops.map((leg, k) => <path key={k} d={legFill(leg)} fill="#ff5252" fillOpacity={0.13} />)}
        <path d={bandPath(greyCloud)} fill="#7a7a7a" fillOpacity={0.2} />
        {redRibbons.map((b, k) => <path key={k} d={bandPath(b)} fill="#c84a4a" fillOpacity={0.42} />)}
        {tealRibbons.map((b, k) => <path key={k} d={bandPath(b)} fill="#137a70" fillOpacity={0.5} />)}

        {/* big order markers sit under the lines */}
        <g opacity={0.92}>
          <path d={`M${x(80) - 21},${yPrice(0.2175)} h12 l9,-6 l9,6 h12 v31 h-42 Z`} fill="#4caf50" />
          <Txt x={x(80)} y={441} size={13} anchor="middle" fill="#fff" opacity={0.45}>Buy</Txt>
          <path d={`M${x(124) - 19},390 h39 v32 h-12 l-8,8 l-8,-8 h-11 Z`} fill="#f4504f" />
          <Txt x={x(124)} y={410} size={13} anchor="middle" fill="#fff" opacity={0.6}>Sell</Txt>
        </g>

        {/* candles, flat days are just a dot */}
        {bars.map((b) => {
          const up = b.close > b.open;
          const flat = b.close === b.open;
          const cx = x(b.i);
          const color = flat || up ? '#26a69a' : '#f23f3f';
          return (
            <g key={b.i}>
              {b.wick && <line x1={cx + 0.5} x2={cx + 0.5} y1={yPrice(b.wick[0])} y2={yPrice(b.wick[1])} stroke={color} strokeWidth={1} />}
              {flat ? (
                <circle cx={cx} cy={yPrice(b.close)} r={1.5} fill="#3d9fe0" />
              ) : b.mixed ? (
                <g>
                  <rect x={cx - 2} y={yPrice(Math.max(b.open, b.close))} width={4} height={Math.abs(yPrice(b.open) - yPrice(b.close))} fill="#26a69a" />
                  <rect x={cx - 1} y={yPrice(Math.max(b.open, b.close))} width={2} height={Math.abs(yPrice(b.open) - yPrice(b.close))} fill="#f55350" />
                </g>
              ) : (
                <rect x={cx - 2} y={yPrice(Math.max(b.open, b.close))} width={4} height={Math.abs(yPrice(b.open) - yPrice(b.close))} fill={up ? '#0cbf78' : '#f55350'} />
              )}
            </g>
          );
        })}

        <line x1={56} x2={x(171)} y1={yPrice(lastPrice)} y2={yPrice(lastPrice)} stroke="#ff5252" strokeWidth={4} strokeDasharray="4 12" />

        <path d={linePath(cyanLine, yPrice)} {...strokeLine} stroke="#26c6da" strokeWidth={1} />
        {greenStops.map((leg, k) => <path key={k} d={linePath(leg, yPrice)} {...strokeLine} stroke="#4caf50" strokeWidth={2} />)}
        {redStops.map((leg, k) => <path key={k} d={linePath(leg, yPrice)} {...strokeLine} stroke="#ff5252" strokeWidth={2} />)}
        <path d={linePath(greenLine, yPrice)} {...strokeLine} stroke="#388e3c" strokeWidth={3} />
        <path d={linePath(purpleLine, yPrice)} {...strokeLine} stroke="#673ab7" strokeWidth={3} />
        <path d={linePath(orangeLine, yPrice)} {...strokeLine} stroke="#ff9800" strokeWidth={3} />
        <path d={linePath(blueLine, yPrice)} {...strokeLine} stroke="#2196f3" strokeWidth={3} />
        <path d={linePath(volumeMa, yVol)} {...strokeLine} stroke="#000" strokeWidth={3} />

        {sellIdx.map((b, k) => (
          <g key={b}>
            <circle cx={x(b)} cy={yPrice(sellPrice[k])} r={4} fill="#ff5252" />
            <rect x={x(b) - 13} y={yPrice(sellPrice[k]) - 23} width={26} height={20} rx={2} fill="#000" />
            <Txt x={x(b)} y={yPrice(sellPrice[k]) - 8.5} size={12} anchor="middle" fill="#fff">Sell</Txt>
          </g>
        ))}
        {buyIdx.map((b, k) => (
          <g key={b}>
            {b === 130 && <circle cx={x(b)} cy={yPrice(buyPrice[k])} r={3.5} fill="#4caf50" />}
            <rect x={x(b) - 14} y={yPrice(buyPrice[k]) + 5} width={28} height={20} rx={2} fill="#673ab7" />
            <Txt x={x(b)} y={yPrice(buyPrice[k]) + 19.5} size={12} anchor="middle" fill="#fff">Buy</Txt>
          </g>
        ))}
        {earningsIdx.map((b) => (
          <g key={b}>
            <rect x={x(b) - 9.5} y={556} width={19} height={18} rx={2} fill="#fff" stroke="#808080" strokeWidth={1.5} />
            <Txt x={x(b)} y={570} size={13} anchor="middle" fill="#444" weight={500}>E</Txt>
          </g>
        ))}
      </g>

      {/* insider flow, step line */}
      <path d={flowStep(flowIdx) || ''} fill="none" stroke="#26c6da" strokeWidth={2} />
      {flowMarks.map((k) => (
        <g key={k} transform={`translate(${x(flowIdx[k])},${yFlow(flowVal[k])}) rotate(45)`}>
          <rect x={-13} y={-13} width={26} height={26} rx={4} fill="#26c6da" fillOpacity={0.16} />
          <rect x={-5} y={-5} width={10} height={10} rx={1} fill="#26c6da" />
        </g>
      ))}

      {/* capital area */}
      <path d={capArea(capIdx) || ''} fill="#2962ff" />

      {/* momentum histogram */}
      <line x1={56} x2={x(171)} y1={crisp(yHist(0))} y2={crisp(yHist(0))} stroke="#e8e8ee" strokeDasharray="3 3" />
      {histVal.map((v, i) => v !== 0 && (
        <rect key={i} x={x(i) - BAR_W / 2} y={yHist(Math.max(v, 0))} width={BAR_W} height={Math.abs(yHist(v) - yHist(0))} fill={histGrey.includes(i) ? '#d9d9de' : v > 0 ? '#00bfff' : '#ff0060'} />
      ))}

      {/* money flow stack */}
      {yellowVal.map((v, i) => {
        const red = redByBar.get(i) ?? redFloor;
        return (
          <g key={i}>
            <rect x={x(i) - BAR_W / 2} y={yStack(stackTop)} width={BAR_W} height={yStack(v) - yStack(stackTop)} fill="#119a08" />
            <rect x={x(i) - BAR_W / 2} y={yStack(v)} width={BAR_W} height={yStack(0) - yStack(v)} fill="#ffff00" />
            <rect x={x(i) - BAR_W / 2} y={yStack(red)} width={BAR_W} height={yStack(0) - yStack(red)} fill="#ef5350" />
          </g>
        );
      })}
      {stackLevels.map((v) => <line key={v} x1={56} x2={966} y1={crisp(yStack(v)) - 1} y2={crisp(yStack(v)) - 1} stroke="#8e1fa6" />)}
      <path d={linePath(flowLine, yStack)} {...strokeLine} stroke="#2196f3" strokeWidth={2} />
      <g transform="translate(67,984)">
        <path d="M-2,-2 H16 V15 H7 V6 H-2 Z M19,15 L24,-2 H33 L27,15 Z" fill="#000" stroke="#fff" strokeWidth={1.5} paintOrder="stroke" />
        <circle cx={20} cy={2} r={3} fill="#000" />
      </g>

      {/* pane dividers and axes */}
      <g stroke={DIVIDER}>
        {[579, 671, 772, 883, 1013, 1042].map((py) => <line key={py} x1={56} x2={1032} y1={py + 0.5} y2={py + 0.5} />)}
        <line x1={966.5} x2={966.5} y1={42} y2={1042} />
      </g>

      {priceTicks.map((p, k) => (
        <Txt key={p} x={974} y={yPrice(p) + 4.5} size={12} weight={k % 2 === 0 ? 700 : 400} fill={k % 2 === 0 ? '#131722' : '#3a3f4b'}>{p.toFixed(3)}</Txt>
      ))}
      <rect x={913} y={398} width={53} height={17} rx={2} fill="#ff5252" />
      <Txt x={939.5} y={411} size={12} anchor="middle" fill="#fff">SHCHAN</Txt>
      <rect x={966} y={398} width={44} height={17} rx={2} fill="#ff5252" />
      <Txt x={974} y={411} size={12} fill="#fff">{lastPrice.toFixed(3)}</Txt>

      <Txt x={974} y={yFlow(10) + 4.5} size={12}>10 M</Txt>
      <Txt x={974} y={yFlow(0) + 4.5} size={12}>0</Txt>
      <Txt x={974} y={yCap(2) + 4.5} size={12}>2 M</Txt>
      <Txt x={974} y={yCap(0) + 4.5} size={12}>0</Txt>
      <Txt x={974} y={yHist(20) + 4.5} size={12}>20.00</Txt>
      <Txt x={974} y={yHist(0) + 4.5} size={12}>0.000</Txt>
      <Txt x={974} y={yHist(-20) + 4.5} size={12}>−20.00</Txt>
      <Txt x={974} y={yStack(20) + 4.5} size={12}>20.00</Txt>
      <Txt x={974} y={yStack(10) + 4.5} size={12}>10.00</Txt>
      <Txt x={974} y={yStack(0) + 4.5} size={12}>0.000</Txt>
      <CurrencyBox yTop={47} />
      <CurrencyBox yTop={583} />
      <CurrencyBox yTop={677} />

      {/* time axis */}
      <g clipPath="url(#axisX)">
        {monthIdx.map((b, k) => (
          <Txt key={b} x={x(b) - 1} y={1032} size={12.5} anchor="middle" weight={monthLabels[k] === '2026' ? 700 : 400} fill="#2a3040">{monthLabels[k]}</Txt>
        ))}
      </g>
      <path d="M992,1027 L995,1022 H1001 L1004,1027 L1001,1032 H995 Z" fill="none" stroke="#222" />
      <circle cx={998} cy={1027} r={2} fill="none" stroke="#222" />

      {/* range bar */}
      {rangeButtons.map((t, k) => (
        <Txt key={t} x={[79, 109, 140, 172, 204, 239, 272, 300, 328][k]} y={1066} size={13.5} anchor="middle" fill="#2a3a55">{t}</Txt>
      ))}
      <line x1={347.5} x2={347.5} y1={1050} y2={1072} stroke="#e3e3e3" />
      <path d="M363,1063 H376 M372,1060 L376,1063 L372,1066 M366,1054 H380 V1069 H370 M365,1060 V1054 M369,1051 V1056 M376,1051 V1056 M365,1059 H380" fill="none" stroke="#222" />
      <Txt x={973} y={1066} size={13.5} anchor="end" fill="#2a3040">09:51:10 UTC+8</Txt>
      <line x1={985.5} x2={985.5} y1={1050} y2={1072} stroke="#e3e3e3" />
      <Txt x={1008} y={1066} size={13.5} anchor="middle" fill="#2a3a55">ADJ</Txt>

      {/* overlay controls */}
      <PaneButton yTop={587} />
      <PaneButton yTop={680} />
      <PaneButton yTop={781} />
      <rect x={65.5} y={116.5} width={38} height={19} rx={3} fill="#fff" stroke="#dcdcdc" />
      <Chevron cx={74} cy={126} />
      <Txt x={84} y={131} size={13} fill="#222">12</Txt>
      <Sync cx={129} cy={126} />

      {/* order panel, partly under the tooltip */}
      <rect x={65.5} y={70} width={52} height={38} rx={5} fill="#fff" stroke="#f23645" />
      <rect x={160.5} y={70} width={52} height={38} rx={5} fill="#fff" stroke="#2962ff" />
      <Txt x={91} y={88} size={12} anchor="middle" fill="#f23645" weight={600}>0.213</Txt>
      <Txt x={186} y={88} size={12} anchor="middle" fill="#2962ff" weight={600}>0.240</Txt>
      <Txt x={91} y={103} size={11} anchor="middle" fill="#f23645">SELL</Txt>
      <Txt x={186} y={103} size={11} anchor="middle" fill="#2962ff">BUY</Txt>
      <Txt x={139} y={95} size={10.5} anchor="middle" fill="#333">0.025</Txt>

      {/* legend */}
      <path d="M217,54 L224,62 M224,54 L217,62" stroke="#444" fill="none" />
      <rect x={233} y={49} width={40} height={18} rx={9} fill="#dcefe9" />
      <circle cx={244} cy={58} r={4} fill="#0a6b5a" />
      <path d="M266,54 A4.5,4.5 0 1 0 266,62 A3.5,3.5 0 1 1 266,54 Z" fill="#3b8f3f" />
      <Txt x={281} y={63} size={12.3} fill="#333">O<tspan fill="#26a69a">0.220</tspan></Txt>
      <Txt x={329} y={63} size={12.3} fill="#333">H<tspan fill="#26a69a">0.225</tspan></Txt>
      <Txt x={376} y={63} size={12.3} fill="#333">L<tspan fill="#26a69a">0.220</tspan></Txt>
      <Txt x={421} y={63} size={12.3} fill="#333">C<tspan fill="#26a69a">0.220</tspan></Txt>
      <Txt x={468} y={63} size={12.3} fill="#26a69a">0.000 (0.00%)</Txt>

      {/* floating drawing toolbar */}
      <rect x={540} y={100} width={100} height={37} rx={5} fill="#fff" filter="url(#soft)" />
      <g fill="#d5d5d5">
        {[0, 1, 2].map((r) => [0, 1].map((c) => <circle key={`${r}${c}`} cx={550 + c * 5} cy={113 + r * 5} r={1.3} />))}
      </g>
      <g fill="none" stroke="#333">
        <path d="M572,123 L580,116 L586,123 L594,116" /><circle cx={572} cy={123} r={2} fill="#fff" /><circle cx={580} cy={116} r={2} fill="#fff" /><circle cx={586} cy={123} r={2} fill="#fff" /><circle cx={594} cy={116} r={2} fill="#fff" />
        <path d="M610,123 L618,116 L624,123 L632,116" /><circle cx={610} cy={123} r={2} fill="#fff" /><circle cx={618} cy={116} r={2} fill="#fff" /><circle cx={624} cy={123} r={2} fill="#fff" /><circle cx={632} cy={116} r={2} fill="#fff" />
      </g>
      <Txt x={580} y={112} size={8.5} anchor="middle" weight={700}>1</Txt>
      <Txt x={594} y={112} size={8.5} anchor="middle" weight={700}>5</Txt>
      <Txt x={618} y={112} size={8.5} anchor="middle" weight={700}>A</Txt>
      <Txt x={632} y={112} size={8.5} anchor="middle" weight={700}>C</Txt>

      {/* gutters and side bars */}
      <rect x={0} y={39} width={1080} height={3} fill="#e9e9e9" />
      <rect x={0} y={42} width={52} height={1038} fill="#fff" />
      <rect x={52} y={42} width={4} height={1038} fill="#e9e9e9" />
      <rect x={1032} y={42} width={4} height={1038} fill="#e9e9e9" />
      <rect x={1036} y={42} width={44} height={1038} fill="#fff" />
      <g stroke="#e6e6e6">
        <line x1={8} x2={44} y1={358.5} y2={358.5} />
        <line x1={8} x2={44} y1={446.5} y2={446.5} />
        <line x1={8} x2={44} y1={650.5} y2={650.5} />
        <line x1={1041} x2={1074} y1={1028.5} y2={1028.5} />
      </g>
      <LeftTools />
      <RightTools />
      <rect x={9} y={1024} width={34} height={34} rx={5} fill="#2e2e2e" />
      <path d="M26,1031 L29,1038 L36,1039 L31,1044 L32,1051 L26,1047 L20,1051 L21,1044 L16,1039 L23,1038 Z" fill="none" stroke="#fff" strokeWidth={1.1} />
      <circle cx={1058} cy={998} r={17} fill="#2e2e2e" />
      <g fill="#fff">
        {[-7, 0, 7].map((r) => [-7, 0, 7].map((c) => <rect key={`${r}${c}`} x={1058 + c - 2.5} y={998 + r - 2.5} width={5} height={5} rx={1} />))}
      </g>
      <Badge cx={1068} cy={193} label="1" w={16} />
      <Badge cx={1061} cy={896} label="99+" w={28} />
      <Badge cx={1065} cy={942} label="59" w={22} />

      <TopBar />

      {/* account tooltip */}
      <path d="M20,42 L26,38 L32,42 Z" fill="#2e2e2e" />
      <rect x={10} y={42} width={211} height={42} rx={3} fill="#2e2e2e" />
      <Txt x={18} y={59} size={12.2} fill="#eee">Logged in as MahersahamOfficial</Txt>
      <Txt x={18} y={78} size={12.2} fill="#eee">Active layout: INtraswing 1D</Txt>
    </svg>
  );
}
